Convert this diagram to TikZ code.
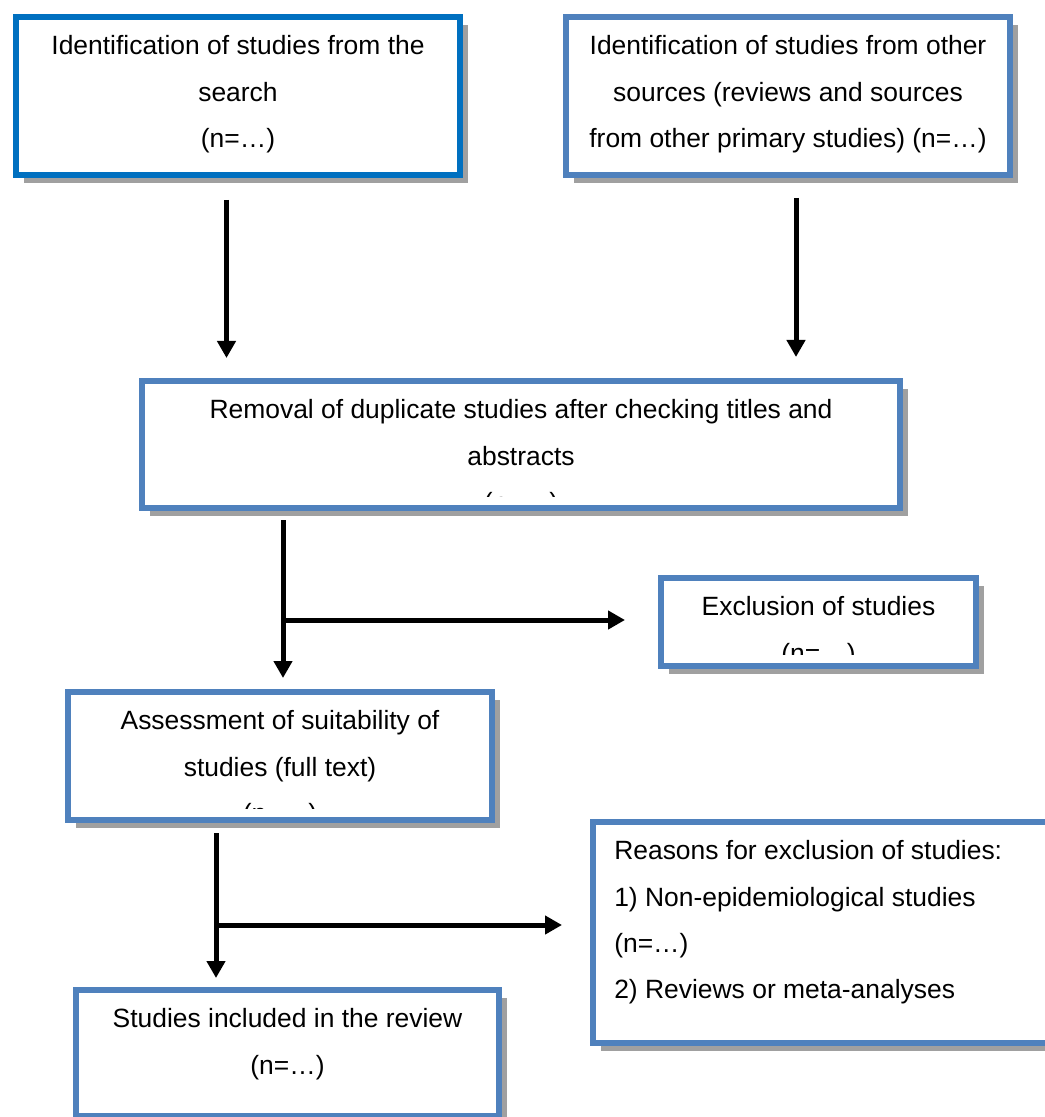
\documentclass[tikz,border=0pt]{standalone}
\usepackage{fontspec}
\setmainfont{Liberation Sans}
\usetikzlibrary{shapes,arrows.meta,shadows,positioning}
\definecolor{searchblue}{RGB}{0,112,192}
\definecolor{boxblue}{RGB}{79,129,189}
\definecolor{shadowgray}{RGB}{160,160,160}
\tikzstyle{box} = [rectangle, draw=boxblue, line width=0.15cm, fill=white,
	inner sep=0pt, drop shadow={shadow xshift=0.2cm, shadow yshift=-0.2cm,
	fill=shadowgray, opacity=1}]
\tikzstyle{txt} = [inner sep=0pt, font=\fontsize{18.8}{33}\selectfont]
\tikzstyle{line} = [draw, line width=0.125cm,
	-{Triangle[width=0.45cm,length=0.425cm]}]
% text of a box, cut off above the bottom of its frame
\newcommand{\boxtext}[4]{%
	\begin{scope}
		\clip ([shift={(0.15,0.375)}]#1.south west) rectangle ([shift={(-0.15,-0.15)}]#1.north east);
		\node [txt, #3] (#1text) at (#1.#2) {#4};
	\end{scope}}

\begin{document}
\begin{tikzpicture}
	\useasboundingbox (0,0) rectangle (26.1,-27.925);

	% Place nodes
	\node [box, draw=searchblue, minimum width=11.1cm, minimum height=3.95cm] (search) at (5.95,-2.4) {};
	\node [box, right of=search, node distance=13.75cm, minimum width=11.1cm, minimum height=3.95cm] (other) {};
	\node [box, minimum width=18.95cm, minimum height=3.175cm] (removal) at (13.025,-11.1125) {};
	\node [box, minimum width=7.875cm, minimum height=2.2cm] (exclusion) at (20.4625,-15.55) {};
	\node [box, minimum width=10.6cm, minimum height=3.2cm] (assess) at (7.0,-18.9) {};
	\node [box, minimum width=12cm, minimum height=5.525cm] (reasons) at (20.825,-23.3125) {};
	\node [box, minimum width=10.575cm, minimum height=3.15cm] (included) at (7.1875,-26.325) {};

	% Place texts
	\boxtext{search}{north}{align=center, anchor=north, yshift=-0.53cm}{Identification of studies from the\\search\\(n=…)}
	\boxtext{other}{north}{align=center, anchor=north, yshift=-0.53cm}{Identification of studies from other\\sources (reviews and sources\\from other primary studies) (n=…)}
	\boxtext{removal}{north}{align=center, anchor=north, yshift=-0.53cm}{Removal of duplicate studies after checking titles and\\abstracts\\(n=…)}
	\boxtext{exclusion}{north}{align=center, anchor=north, yshift=-0.53cm}{Exclusion of studies\\(n=…)}
	\boxtext{assess}{north}{align=center, anchor=north, yshift=-0.53cm}{Assessment of suitability of\\studies (full text)\\(n=…)}
	\boxtext{reasons}{north west}{align=left, anchor=north west, xshift=0.6cm, yshift=-0.53cm}{Reasons for exclusion of studies:\\1) Non-epidemiological studies\\(n=…)\\2) Reviews or meta-analyses}
	\boxtext{included}{north}{align=center, anchor=north, yshift=-0.53cm}{Studies included in the review\\(n=…)}

	\coordinate (cut1) at (7.075,-15.5);
	\coordinate (cut2) at (5.4,-23.125);

	% Draw edges
	\path [line, shorten <=0.55cm, shorten >=0.5cm] ([xshift=-0.2875cm]search.south) -- ([xshift=-0.2875cm]search.south |- removal.north);
	\path [line, shorten <=0.5cm, shorten >=0.525cm] ([xshift=0.2cm]other.south) -- ([xshift=0.2cm]other.south |- removal.north);
	\path [line, shorten <=0.225cm, shorten >=0.275cm] ([xshift=0.075cm]assess.north |- removal.south) -- ([xshift=0.075cm]assess.north);
	\path [line, shorten >=0.825cm] (cut1) -- (cut1 -| exclusion.west);
	\path [line, shorten <=0.25cm, shorten >=0.225cm] ([xshift=-1.6cm]assess.south) -- ([xshift=-1.6cm]assess.south |- included.north);
	\path [line, shorten >=0.7cm] (cut2) -- (cut2 -| reasons.west);
\end{tikzpicture}
\end{document}
